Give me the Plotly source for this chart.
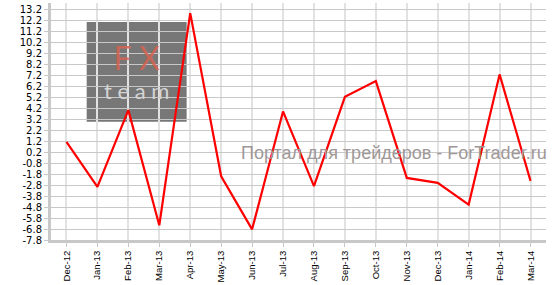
import plotly.graph_objects as go

months = ["Dec-12", "Jan-13", "Feb-13", "Mar-13", "Apr-13", "May-13", "Jun-13", "Jul-13",
          "Aug-13", "Sep-13", "Oct-13", "Nov-13", "Dec-13", "Jan-14", "Feb-14", "Mar-14"]
values = [1.13, -2.97, 4.02, -6.46, 12.85, -2.0, -6.83, 3.9,
          -2.9, 5.23, 6.66, -2.15, -2.6, -4.58, 7.27, -2.42]
y_ticks = [round(13.2 - i, 1) for i in range(22)]
y_labels = [f"{v:.1f}" for v in y_ticks]

fig = go.Figure()
fig.add_trace(go.Scatter(
    x=list(range(len(months))), y=values, mode="lines",
    line=dict(color="#ff0000", width=2.2), hoverinfo="skip", showlegend=False,
))

logo_text = ("<span style='font-size:32px;color:rgba(214,100,80,0.85)'>F X</span><br>"
             "<span style='font-size:22px;color:#d4d4d4'>t e a m</span>")

fig.update_layout(
    width=556, height=285,
    margin=dict(l=51, r=10, t=3, b=45),
    paper_bgcolor="white", plot_bgcolor="white",
    showlegend=False,
    xaxis=dict(
        range=[-0.5, 15.5], tickmode="array", tickvals=list(range(len(months))),
        ticktext=months, tickangle=-90,
        tickfont=dict(family="Liberation Sans, Arial", size=9.5, color="#000000"),
        showgrid=True, gridcolor="#e2e2e2", gridwidth=2,
        showline=True, linecolor="#c8c8c8", linewidth=3,
        ticks="outside", ticklen=4, tickcolor="#c8c8c8", zeroline=False,
    ),
    yaxis=dict(
        range=[-7.8, 13.77], tickmode="array", tickvals=y_ticks, ticktext=y_labels,
        tickfont=dict(family="DejaVu Sans, Verdana", size=10, color="#000000"),
        showgrid=True, gridcolor="#c8c8c8", gridwidth=1,
        showline=True, linecolor="#c8c8c8", linewidth=3,
        ticks="outside", ticklen=4, tickcolor="#c8c8c8", zeroline=False,
    ),
    shapes=[dict(type="rect", xref="paper", yref="paper",
                 x0=0.0721, x1=0.274, y0=0.499, y1=0.920,
                 fillcolor="#777777", line=dict(width=0), layer="below")],
    annotations=[
        dict(text=logo_text, xref="paper", yref="paper", x=0.173, y=0.715,
             xanchor="center", yanchor="middle", showarrow=False, align="center",
             font=dict(family="Lato, Liberation Sans", size=22, color="#d4d4d4")),
        dict(text="Портал для трейдеров - ForTrader.ru", xref="paper", yref="paper",
             x=0.380, y=0.367, xanchor="left", yanchor="middle", showarrow=False,
             font=dict(family="Liberation Sans, Arial", size=18, color="#a09898")),
    ],
)

fig.write_html("out.html")
